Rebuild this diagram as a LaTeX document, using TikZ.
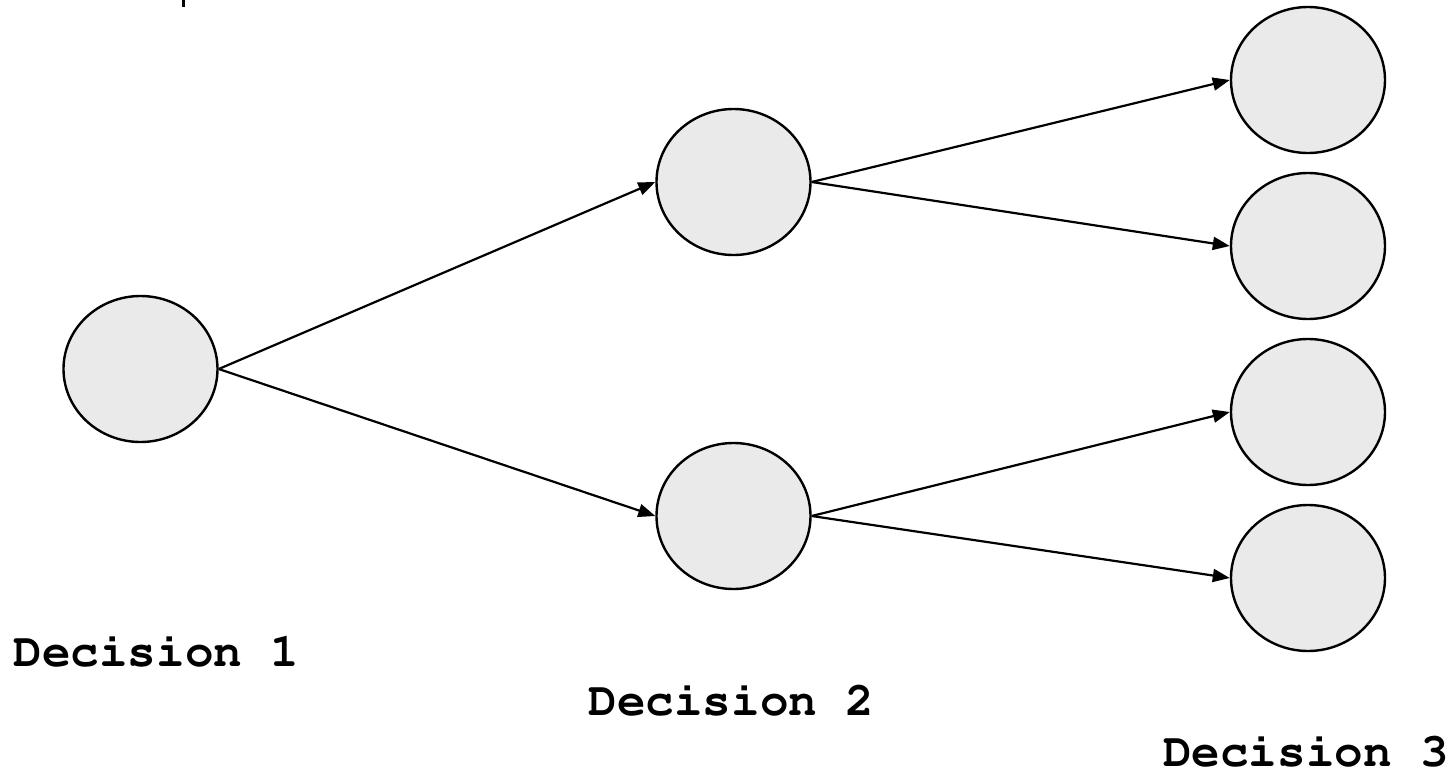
\documentclass[tikz,border=0pt]{standalone}
\usepackage[T1]{fontenc}
\usepackage{courier}
\usetikzlibrary{shapes.geometric,arrows.meta}
\definecolor{nodefill}{HTML}{EAEAEA}
\begin{document}
\begin{tikzpicture}[x=0.5pt,y=-0.5pt,
  dnode/.style={ellipse,draw=black,line width=1.2pt,fill=nodefill,minimum width=77pt,minimum height=73pt,inner sep=0pt},
  conn/.style={line width=1.1pt,-{Triangle[length=8.5pt,width=6.5pt]}},
  lbl/.style={anchor=base,inner sep=0pt,font=\ttfamily\bfseries\fontsize{23.8}{28}\selectfont}]
\useasboundingbox (0,0) rectangle (1453,772);
\fill[white] (0,0) rectangle (1453,772);
\draw[line width=1.5pt] (183,0) -- (183,7);
\node[dnode] (r) at (140.5,369) {};
\node[dnode] (a) at (733.5,182) {};
\node[dnode] (b) at (733.5,516) {};
\node[dnode] (l1) at (1308,80) {};
\node[dnode] (l2) at (1308,246) {};
\node[dnode] (l3) at (1308,412) {};
\node[dnode] (l4) at (1308,578) {};
\draw[conn] (r.east) -- (a.west);
\draw[conn] (r.east) -- (b.west);
\draw[conn] (a.east) -- (l1.west);
\draw[conn] (a.east) -- (l2.west);
\draw[conn] (b.east) -- (l3.west);
\draw[conn] (b.east) -- (l4.west);
\node[lbl] (d1) at (156.5,666) {Decision 1};
\node[lbl] (d2) at (731.5,715) {Decision 2};
\node[lbl] (d3) at (1306,766) {Decision 3};
\end{tikzpicture}
\end{document}
